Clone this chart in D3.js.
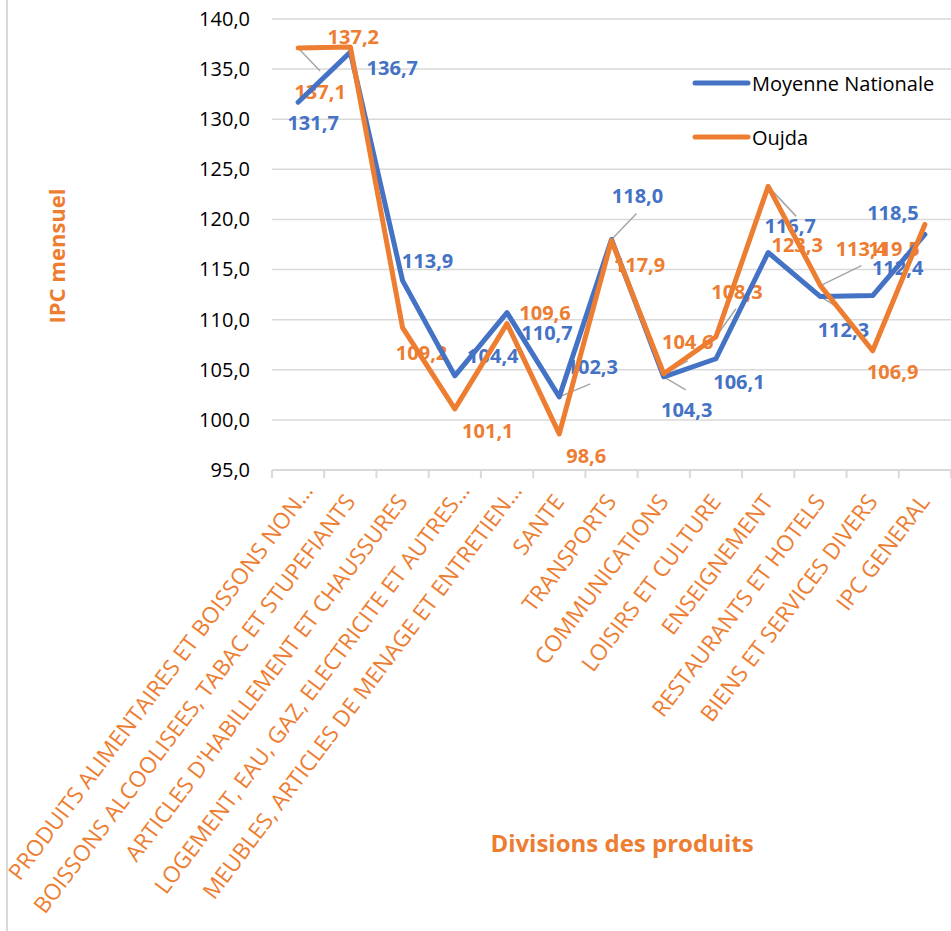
<!DOCTYPE html>
<html><head><meta charset="utf-8">
<script src="https://cdn.jsdelivr.net/npm/d3@7"></script>
<style>
html,body{margin:0;padding:0;background:#fff;}
svg{display:block;font-family:"Open Sans",sans-serif;}
</style></head>
<body>
<script>
const categories = [
  "PRODUITS ALIMENTAIRES ET BOISSONS NON\u2026",
  "BOISSONS ALCOOLISEES, TABAC ET STUPEFIANTS",
  "ARTICLES D'HABILLEMENT ET CHAUSSURES",
  "LOGEMENT, EAU, GAZ, ELECTRICITE ET AUTRES\u2026",
  "MEUBLES, ARTICLES DE MENAGE ET ENTRETIEN\u2026",
  "SANTE",
  "TRANSPORTS",
  "COMMUNICATIONS",
  "LOISIRS ET CULTURE",
  "ENSEIGNEMENT",
  "RESTAURANTS ET HOTELS",
  "BIENS ET SERVICES DIVERS",
  "IPC GENERAL"
];
const moyenneNationale = [131.7,136.7,113.9,104.4,110.7,102.3,118.0,104.3,106.1,116.7,112.3,112.4,118.5];
const oujda = [137.1,137.2,109.2,101.1,109.6,98.6,117.9,104.6,108.3,123.3,113.4,106.9,119.5];
const yTicks = [95,100,105,110,115,120,125,130,135,140];
const seriesNames = ["Moyenne Nationale","Oujda"];
const yTitle = "IPC mensuel";
const xTitle = "Divisions des produits";

// label layout (pixel offsets of data labels from their point)
const blueLabelOffsets = [[15,20],[42,15],[25,-20],[38,-20],[40,20],[33,-30],[26,-44],[23,33],[23,23],[22,-27],[23,33],[25,-28],[-32,-22]];
const orangeLabelOffsets = [[22,43],[3,-11],[19,25],[33,22],[38,-11],[27,22],[28,24],[24,-32],[21,-45],[29,58],[41,-37],[20,21],[-31,24]];
const blueLeaders = {5:[31,-13],6:[25,-26],7:[22,13],10:[21,13]};
const orangeLeaders = {0:[22,23],7:[24,-13],8:[20,-28],9:[28,30],10:[41,-20]};

const W = 951, H = 931;
const BLUE = "#4472C4", ORANGE = "#ED7D31", GRID = "#d9d9d9";
const fmt = v => d3.format(".1f")(v).replace(".", ",");

const svg = d3.select("body").append("svg").attr("width", W).attr("height", H);

const x = d3.scaleBand().domain(categories).range([272, 951]);
const y = d3.scaleLinear().domain([95, 140]).range([470, 19]);
const cx = c => x(c) + x.bandwidth() / 2;

// chart border (left edge)
svg.append("line").attr("x1", 7).attr("x2", 7).attr("y1", 0).attr("y2", H)
  .attr("stroke", GRID).attr("stroke-width", 2);

// gridlines
svg.append("g").selectAll("line").data(yTicks.filter(t => t > 95)).join("line")
  .attr("x1", 272).attr("x2", 951)
  .attr("y1", d => y(d)).attr("y2", d => y(d))
  .attr("stroke", GRID).attr("stroke-width", 1.5);

// y axis labels
const yAxis = d3.axisLeft(y).tickValues(yTicks).tickSize(0).tickPadding(0).tickFormat(fmt);
const gy = svg.append("g").attr("transform", "translate(250,0)").call(yAxis);
gy.select(".domain").remove();
gy.selectAll("text").attr("font-size", 20).attr("fill", "#000").attr("font-family", "Open Sans");

// x axis line and ticks
svg.append("line").attr("x1", 272).attr("x2", 951).attr("y1", y(95)).attr("y2", y(95))
  .attr("stroke", GRID).attr("stroke-width", 2);
const tickXs = categories.map(c => x(c)).concat([x.range()[1]]);
svg.append("g").selectAll("line").data(tickXs).join("line")
  .attr("x1", d => d).attr("x2", d => d).attr("y1", y(95)).attr("y2", y(95) + 8)
  .attr("stroke", GRID).attr("stroke-width", 2);

// x category labels
svg.append("g").selectAll("text").data(categories).join("text")
  .attr("transform", c => {
    const trunc = c.endsWith("\u2026");
    const ax = cx(c) + (trunc ? 16 : 6);
    const ay = y(95) + (trunc ? 21 : 32);
    return `translate(${ax},${ay}) rotate(-53)`;
  })
  .attr("text-anchor", "end")
  .attr("font-size", 22.5).attr("fill", ORANGE)
  .text(c => c);

// axis titles
svg.append("text").attr("transform", "translate(56,256) rotate(-90)")
  .attr("text-anchor", "middle").attr("dominant-baseline", "central")
  .attr("font-size", 22).attr("font-weight", "bold").attr("fill", ORANGE).text(yTitle);
svg.append("text").attr("x", 622).attr("y", 842)
  .attr("text-anchor", "middle").attr("dominant-baseline", "central")
  .attr("font-size", 24).attr("font-weight", "bold").attr("fill", ORANGE).text(xTitle);

// data labels
function drawLabels(values, offsets, color) {
  svg.append("g").selectAll("text").data(values).join("text")
    .attr("x", (d, i) => cx(categories[i]) + offsets[i][0])
    .attr("y", (d, i) => y(d) + offsets[i][1])
    .attr("text-anchor", "middle").attr("dominant-baseline", "central")
    .attr("font-size", 20).attr("font-weight", "bold").attr("fill", color)
    .text(d => fmt(d));
}
drawLabels(moyenneNationale, blueLabelOffsets, BLUE);
drawLabels(oujda, orangeLabelOffsets, ORANGE);

// leader lines
function drawLeaders(values, leaders) {
  const entries = Object.keys(leaders).map(k => [+k, leaders[k]]);
  svg.append("g").selectAll("line").data(entries).join("line")
    .attr("x1", d => cx(categories[d[0]])).attr("y1", d => y(values[d[0]]))
    .attr("x2", d => cx(categories[d[0]]) + d[1][0]).attr("y2", d => y(values[d[0]]) + d[1][1])
    .attr("stroke", "#a6a6a6").attr("stroke-width", 1.5);
}
drawLeaders(moyenneNationale, blueLeaders);
drawLeaders(oujda, orangeLeaders);

// lines
const line = d3.line().x((d, i) => cx(categories[i])).y(d => y(d));
[[moyenneNationale, BLUE], [oujda, ORANGE]].forEach(([vals, col]) => {
  svg.append("path").datum(vals).attr("d", line)
    .attr("fill", "none").attr("stroke", col).attr("stroke-width", 5)
    .attr("stroke-linejoin", "round").attr("stroke-linecap", "round");
});

// legend
const legY = [83, 137];
const legend = svg.append("g").selectAll("g").data(seriesNames).join("g")
  .attr("transform", (d, i) => `translate(0,${legY[i]})`);
legend.append("line").attr("x1", 695).attr("x2", 748).attr("y1", 0).attr("y2", 0)
  .attr("stroke", (d, i) => i === 0 ? BLUE : ORANGE).attr("stroke-width", 5).attr("stroke-linecap", "round");
legend.append("text").attr("x", 752).attr("y", 0).attr("dominant-baseline", "central")
  .attr("font-size", 20).attr("fill", "#000").text(d => d);
</script>
</body></html>
